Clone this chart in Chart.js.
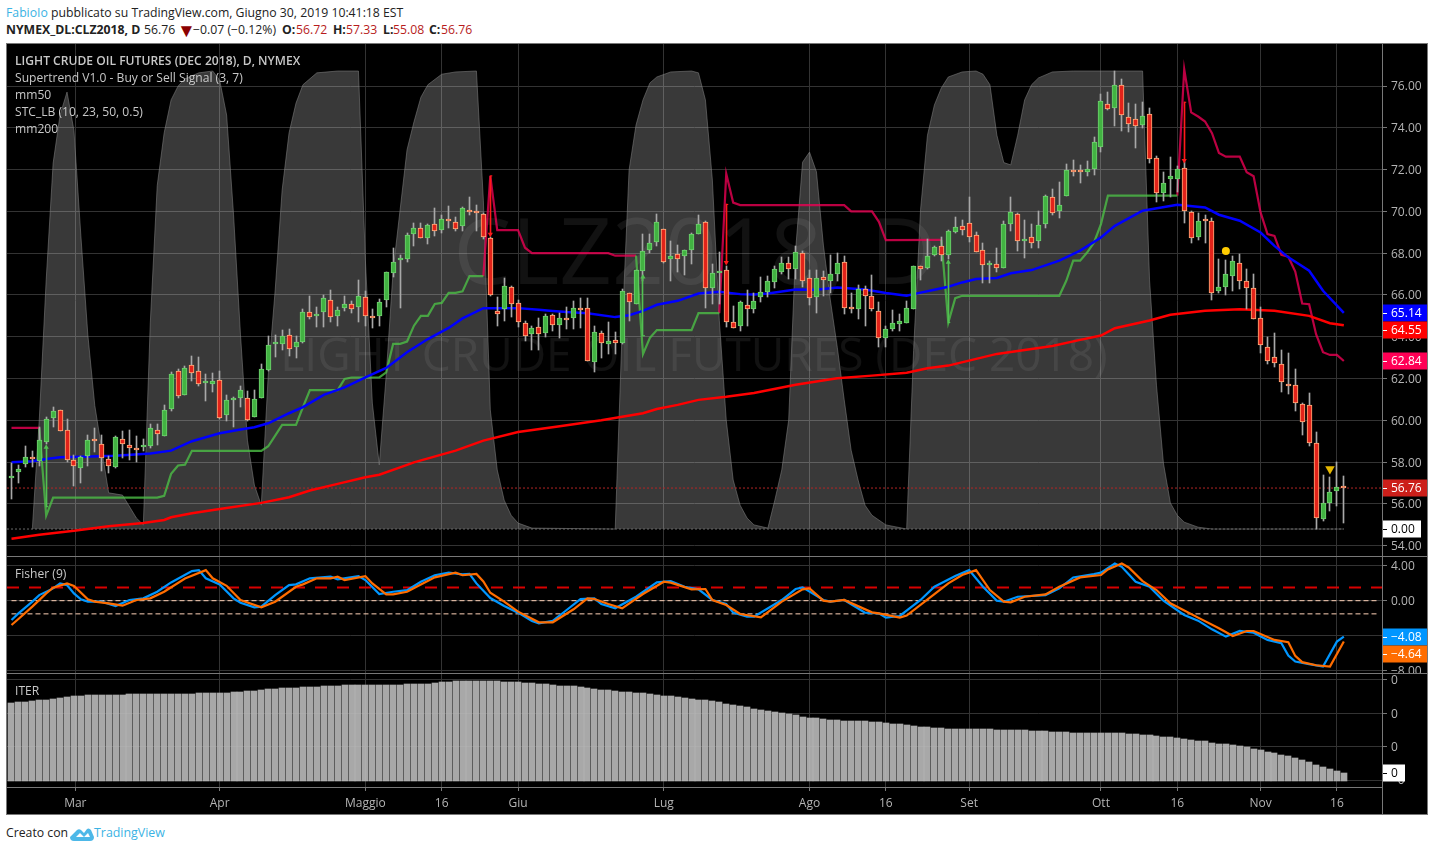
<!DOCTYPE html>
<html><head><meta charset="utf-8">
<script src="https://cdn.jsdelivr.net/npm/chart.js@4"></script>
<style>
html,body{margin:0;padding:0;background:#fff;width:1434px;height:851px;overflow:hidden;font-family:"Open Sans",sans-serif}
.t{position:absolute;white-space:nowrap;line-height:16px}
.h{font-size:12.25px;color:#222;top:22px}
.r{color:#b71c1c}
#frame{position:absolute;left:6px;top:43px;width:1422px;height:772px;box-sizing:border-box;border:1px solid #787878;background:#000}
canvas{position:absolute;left:7px;display:block}
.sep{position:absolute;background:#787878;z-index:2}
.lg{color:#c8c8c8;font-size:12.1px;z-index:3}
</style></head><body>
<div class="t" style="left:6px;top:5px;font-size:12.25px;color:#222"><span style="color:#3bb3e4">FabioIo</span> pubblicato su TradingView.com, Giugno 30, 2019 10:41:18 EST</div>
<div class="t h" style="left:6px"><b>NYMEX_DL:CLZ2018, D</b></div>
<div class="t h" style="left:144px">56.76</div>
<div class="t h" style="left:177px;color:#8b0000;font-size:19px">▼</div>
<div class="t h" style="left:193px">−0.07 (−0.12%)</div>
<div class="t h" style="left:282px"><b>O:</b></div><div class="t h r" style="left:296px">56.72</div>
<div class="t h" style="left:333px"><b>H:</b></div><div class="t h r" style="left:346px">57.33</div>
<div class="t h" style="left:383px"><b>L:</b></div><div class="t h r" style="left:393px">55.08</div>
<div class="t h" style="left:429px"><b>C:</b></div><div class="t h r" style="left:441px">56.76</div>
<div id="frame"></div>
<canvas id="cMain" width="1420" height="513" style="top:44px"></canvas>
<canvas id="cFisher" width="1420" height="116" style="top:557px"></canvas>
<canvas id="cIter" width="1420" height="141" style="top:673px"></canvas>
<div class="sep" style="left:7px;top:556px;width:1420px;height:1px"></div>
<div class="sep" style="left:7px;top:673px;width:1420px;height:1px"></div>
<div class="sep" style="left:1382px;top:44px;width:1px;height:770px"></div>
<div class="t lg" style="left:15px;top:53px;font-weight:600">LIGHT CRUDE OIL FUTURES (DEC 2018), D, NYMEX</div>
<div class="t lg" style="left:15px;top:70px">Supertrend V1.0 - Buy or Sell Signal (3, 7)</div>
<div class="t lg" style="left:15px;top:87px">mm50</div>
<div class="t lg" style="left:15px;top:104px">STC_LB (10, 23, 50, 0.5)</div>
<div class="t lg" style="left:15px;top:121px">mm200</div>
<div class="t lg" style="left:15px;top:566px">Fisher (9)</div>
<div class="t lg" style="left:15px;top:683px">ITER</div>
<div class="t" style="left:6px;top:825px;font-size:12.25px;color:#222">Creato con</div>
<svg style="position:absolute;left:70px;top:826px" width="24" height="15" viewBox="0 0 24 15"><path d="M0 11 L7 4 Q9 2.5 11 4 L14 7 L17 3 Q19 1.5 21 4 L24 11 Q24 15 20 15 L4 15 Q0 15 0 11Z M6 11 L10 7 L14 11 L18 7 L20 11Z" fill="#4db8e8" fill-rule="evenodd"/></svg>
<div class="t" style="left:94px;top:825px;font-size:12.4px;color:#3bb3e4">TradingView</div>
<script>
const open=[57.26,57.52,57.90,58.25,58.07,58.98,60.10,60.50,59.54,58.10,
57.70,58.28,59.07,58.87,58.15,57.75,59.11,58.82,58.68,58.71,
58.76,59.54,59.25,60.53,62.36,61.20,62.65,62.36,61.77,61.73,
61.93,60.24,60.98,61.07,61.07,60.15,61.06,62.40,63.64,63.64,
64.09,63.50,63.74,65.19,65.00,65.17,65.76,65.00,65.36,65.57,
65.43,65.90,64.95,65.00,65.76,67.04,67.65,67.71,68.90,69.22,
68.74,69.38,69.13,69.62,69.48,69.32,70.05,70.00,69.86,68.72,
65.23,65.35,66.37,65.61,64.65,64.11,64.46,64.16,65.03,64.54,
64.89,64.88,65.39,65.37,62.77,64.17,63.65,63.84,63.72,66.09,
65.59,67.17,68.13,68.52,69.15,67.70,67.94,67.86,68.14,68.90,
69.48,66.31,67.03,67.19,64.70,64.50,65.51,65.35,65.90,66.12,
66.60,67.08,67.52,67.22,68.00,66.79,65.90,66.85,66.68,66.98,
67.57,65.41,65.35,66.28,65.94,65.23,63.94,64.35,64.63,64.68,
65.35,67.38,67.28,67.90,68.33,67.92,69.03,69.30,69.44,68.88,
68.15,67.41,67.48,67.28,69.39,69.87,68.58,68.75,68.58,69.39,
70.70,70.00,70.73,71.93,71.93,71.88,72.01,73.07,75.14,74.95,
76.05,74.52,74.42,74.12,74.66,72.56,70.88,71.53,71.53,72.08,
69.97,68.75,69.60,69.54,66.17,66.36,66.93,67.52,66.68,66.33,
64.92,63.53,63.02,62.72,61.76,61.68,60.77,60.72,58.91,55.27,
56.04,56.61,56.79];
const high=[57.95,57.88,58.79,58.55,59.67,60.15,60.66,60.50,60.07,58.36,
58.31,59.32,59.64,59.32,58.31,59.27,59.51,59.54,59.27,59.11,
59.83,59.83,60.74,62.33,62.46,62.62,63.10,63.05,62.22,62.25,
62.38,61.23,61.14,61.66,61.39,61.45,62.70,64.05,64.09,64.30,
64.37,64.05,65.35,65.97,65.41,66.02,66.26,65.41,65.97,65.73,
66.73,66.21,65.33,65.81,67.10,68.26,67.90,68.97,69.43,69.43,
69.40,70.15,69.83,70.26,69.72,70.22,70.67,70.30,69.90,68.75,
65.91,66.80,66.44,65.77,64.76,64.53,64.92,65.11,65.11,65.15,
65.44,65.72,65.85,65.85,64.51,64.29,64.70,64.24,66.28,66.09,
67.19,68.92,68.92,69.87,69.15,68.59,68.38,68.14,68.98,69.83,
69.55,67.47,68.06,67.39,65.48,65.72,66.25,66.09,66.88,66.91,
67.39,67.83,67.80,68.35,68.08,67.18,67.18,67.15,67.92,68.03,
67.87,66.07,66.47,66.44,66.97,65.64,64.53,65.29,65.08,65.72,
67.38,67.40,68.67,68.35,68.75,69.09,69.74,69.58,70.67,69.03,
68.51,67.64,68.23,69.55,70.67,69.92,69.60,69.39,70.03,70.78,
71.07,71.42,72.27,72.48,72.24,72.43,73.58,75.62,75.73,76.74,
76.34,75.18,75.14,75.22,74.95,72.67,71.87,72.59,72.19,72.35,
70.03,69.90,69.84,69.68,67.72,67.68,67.88,67.96,67.24,67.00,
65.41,64.01,64.17,63.37,63.24,62.46,60.82,61.30,59.42,57.39,
57.28,58.01,57.33];
const low=[56.22,56.99,57.75,57.75,57.80,58.87,59.67,59.49,58.00,56.88,
56.99,57.83,58.47,57.56,57.47,57.71,58.18,58.12,58.00,58.55,
58.66,58.84,59.25,60.43,61.09,61.20,61.90,61.66,60.94,61.34,
60.07,59.99,59.70,60.66,59.96,60.15,61.06,62.35,63.02,63.38,
63.10,62.97,63.69,64.85,64.45,64.45,64.69,64.53,65.22,65.12,
64.69,64.53,64.40,64.53,65.41,66.85,65.40,67.60,68.34,68.71,
68.43,68.84,68.95,69.22,69.08,69.08,69.83,69.08,68.67,65.96,
64.53,64.76,64.96,64.45,63.80,63.38,63.38,63.97,64.29,63.92,
64.37,64.37,64.41,62.82,62.30,63.00,63.19,63.19,63.64,64.76,
65.59,66.67,68.03,68.32,67.55,66.67,67.10,66.96,67.50,68.90,
65.40,65.59,65.56,64.45,64.40,64.29,64.53,65.16,65.64,65.88,
66.33,66.99,66.76,66.76,66.36,65.53,65.16,65.96,66.10,66.68,
65.07,65.16,64.87,64.53,65.24,63.52,63.49,64.29,64.29,64.68,
65.35,66.71,67.23,67.87,67.63,67.70,68.95,68.88,68.55,68.04,
66.55,66.55,67.12,67.28,69.04,68.08,67.76,68.27,68.23,69.19,
69.84,69.68,70.73,71.71,71.36,71.71,71.76,72.83,74.86,74.10,
73.83,73.79,73.04,73.98,72.32,70.43,70.51,70.67,70.91,69.42,
68.51,68.64,68.51,65.77,66.07,66.00,66.20,66.28,65.32,64.84,
63.21,62.70,62.57,61.38,61.27,60.47,59.30,58.75,54.79,55.20,
55.64,55.90,55.08];
const close=[57.30,57.67,58.25,58.14,59.06,60.07,60.45,59.49,58.09,57.80,
58.25,59.06,59.03,58.20,57.82,59.19,58.86,58.66,58.60,58.79,
59.64,59.33,60.50,62.22,61.15,62.51,62.27,61.74,61.89,61.89,
60.11,60.98,61.07,61.45,60.00,61.02,62.46,63.60,63.75,64.04,
63.40,63.75,65.19,64.93,65.09,65.86,64.95,65.28,65.57,65.33,
65.95,65.00,64.89,65.67,67.08,67.57,67.72,68.86,69.19,68.71,
69.36,69.08,69.62,69.55,69.17,70.15,69.98,69.90,68.75,66.02,
65.11,66.42,65.59,64.69,64.06,64.41,64.11,64.98,64.54,64.89,
64.80,65.37,65.29,62.82,64.22,63.72,63.79,63.70,66.18,65.64,
67.19,68.10,68.48,69.48,67.60,67.86,67.72,68.14,68.90,69.39,
66.31,67.04,67.14,64.69,64.40,65.65,65.35,65.69,66.13,66.66,
67.23,67.52,67.23,68.05,66.66,65.85,66.79,66.71,66.98,67.52,
65.39,65.32,66.28,65.93,65.32,63.94,64.37,64.65,64.76,65.39,
67.38,67.23,67.86,68.30,67.90,69.07,69.27,69.09,68.75,68.04,
67.41,67.48,67.28,69.39,69.97,68.58,68.67,68.47,69.35,70.73,
69.90,70.30,71.98,71.87,71.87,72.03,73.32,75.30,74.89,76.07,
74.62,74.19,74.09,74.57,72.51,70.88,71.36,71.69,72.03,70.00,
68.72,69.54,69.52,66.09,66.39,67.00,67.62,66.65,66.31,64.84,
63.59,62.86,62.73,61.82,61.62,60.82,59.91,58.91,55.32,56.04,
56.56,56.83,56.76];

const mm50Idx=[0,3,5,7,10,15,20,23,26,30,33,35,37,40,42,45,48,51,54,57,60,63,65,68,70,73,76,78,80,83,87,89,91,93,96,99,102,105,107,109,113,116,119,123,126,129,130,133,135,137,139,142,144,147,151,154,157,159,163,168,172,174,177,180,182,184,187,189,192];
const mm50=[57.99,58.04,58.15,58.23,58.26,58.3,58.41,58.55,59.0,59.38,59.56,59.67,59.86,60.34,60.63,61.22,61.58,62.06,62.51,63.26,63.89,64.42,64.88,65.37,65.37,65.37,65.29,65.23,65.18,65.13,64.94,65.03,65.24,65.53,65.72,66.07,66.15,66.04,66.02,66.07,66.26,66.25,66.36,66.26,66.09,65.96,66.04,66.25,66.39,66.6,66.76,66.81,67.04,67.19,67.64,68.12,68.75,69.31,70.03,70.32,70.19,69.84,69.55,68.99,68.35,67.8,67.16,66.2,65.14];
const mm200Idx=[0,4,9,14,19,22,23,26,30,36,40,43,47,51,53,56,58,64,68,73,79,85,91,93,96,99,103,107,113,119,124,129,132,135,142,150,154,157,159,164,167,172,177,182,187,190,192];
const mm200=[54.33,54.52,54.72,54.93,55.09,55.23,55.36,55.55,55.76,56.05,56.32,56.64,56.96,57.28,57.4,57.75,57.99,58.55,59.03,59.44,59.72,60.0,60.34,60.54,60.74,60.98,61.13,61.31,61.7,62.01,62.14,62.28,62.49,62.62,63.18,63.56,63.85,64.06,64.41,64.78,65.05,65.25,65.32,65.24,65.0,64.65,64.55];

const stUp=[[4,59.64],[5,55.44],[6,56.3],[21,56.3],[22,56.39],[23,57.44],[24,57.84],[25,57.88],[26,58.54],[36,58.54],[37,58.76],[38,59.27],[39,59.78],[41,59.78],[42,60.63],[43,61.45],[47,61.45],[48,61.98],[49,62.05],[53,62.05],[54,62.3],[55,63.66],[56,63.66],[57,63.77],[58,64.53],[59,65.0],[60,65.0],[61,65.57],[62,65.62],[63,66.1],[64,66.1],[65,66.17],[66,66.9],[68,66.9],[69,null],
[90,67.88],[91,63.17],[92,63.95],[93,64.32],[98,64.32],[99,65.13],[102,65.13],[103,null],
[134,68.64],[135,64.68],[136,65.85],[137,65.96],[151,65.96],[152,66.68],[153,67.64],[154,67.64],[155,68.03],[156,68.51],[157,69.39],[158,70.75],[168,70.75]];
const stDown=[[0,59.64],[4,59.64],[5,null],
[68,66.9],[69,71.7],[70,69.1],[73,69.1],[74,68.26],[75,68.0],[86,68.0],[87,67.88],[90,67.88],[91,null],
[102,65.13],[103,71.8],[104,70.42],[105,70.3],[120,70.3],[121,70.0],[124,70.0],[125,69.5],[126,68.62],[134,68.64],[135,null],
[168,70.75],[169,76.8],[170,74.74],[171,74.54],[172,74.3],[173,73.74],[174,72.8],[175,72.62],[177,72.62],[178,71.87],[179,71.68],[180,69.95],[181,68.91],[182,68.83],[183,67.92],[184,67.83],[185,67.12],[186,65.59],[187,65.56],[188,64.12],[189,63.26],[190,63.13],[191,63.13],[192,62.84]];

const stc=[[3,0],[4,23.8],[5,54.4],[6,79.9],[7,90.4],[8,95.4],[9,87],[10,64],[11,42.4],[12,27],[14,7.9],[16,7.4],[18,2.4],[19,0.9],[20,45],[21,75],[22,86.5],[23,93.7],[24,96.7],[25,98.3],[27,99.6],[29,100],[30,98],[31,90.4],[32,68.6],[33,42.4],[34,19.4],[35,9.6],[36,5.2],[37,33.6],[38,52.2],[39,74],[40,86.5],[41,93],[42,97],[44,99.6],[47,100],[50,100],[51,58.7],[52,27.5],[53,14],[54,33.6],[55,56.5],[56,69.7],[57,82.8],[58,88.9],[59,94.3],[60,97],[62,99.3],[64,99.8],[67,100],[68,71.8],[69,26],[70,12.9],[71,6.3],[72,3],[73,1.3],[75,0.2],[87,0],[88,43.4],[89,78.4],[90,88.2],[91,93.7],[92,97.4],[93,98.7],[95,99.8],[98,100],[99,99.6],[100,93.7],[101,76.2],[102,45.6],[103,23.8],[104,10.7],[105,5.2],[106,2.4],[107,0.9],[109,0.2],[110,6.3],[111,12.9],[112,23.8],[113,60.9],[114,80.1],[115,82.3],[116,78],[117,62],[118,50],[119,39.7],[120,28.2],[121,17.2],[122,10.7],[123,5.2],[124,3],[126,0.9],[129,0],[130,39],[131,69.7],[132,86],[133,92.6],[134,96.3],[135,98.7],[137,99.8],[139,100],[140,99.3],[141,97],[142,86],[143,80],[144,79.5],[145,86],[146,93.7],[147,97],[148,98.5],[150,99.8],[153,100],[163,100],[164,54.4],[165,31.4],[166,14.4],[167,5.7],[168,3],[169,1.5],[171,0.4],[173,0],[192,0]];

const fisherBlue=[[0,-2.2],[1,-1.44],[3,-0.11],[4,0.64],[6,1.4],[7,1.97],[8,1.78],[9,0.83],[10,0.15],[11,-0.11],[13,-0.11],[15,-0.61],[17,0.08],[19,0.27],[21,1.02],[23,2.08],[26,3.37],[27,3.48],[28,2.55],[30,1.86],[32,0.27],[33,-0.23],[35,-0.76],[36,-0.68],[38,0.64],[40,1.78],[41,1.86],[43,2.55],[46,2.73],[47,2.42],[50,2.8],[51,2.35],[53,0.76],[55,1.02],[57,1.2],[59,2.15],[61,2.9],[63,3.2],[65,3.0],[66,3.05],
[67,1.97],[69,0.3],[71,-0.6],[73,-1.36],[75,-2.3],[76,-2.58],[78,-2.3],[80,-1.06],[82,0.19],[84,0.27],[85,-0.38],[87,-0.87],[90,0.45],[93,2.08],[95,2.23],[97,1.59],[99,1.29],[101,0.08],[103,-0.38],[104,-1.36],[106,-1.82],[107,-1.82],[111,0.08],[113,1.33],[114,1.52],[117,0.08],[118,-0.11],[120,0.08],[123,-1.36],[125,-1.44],[126,-1.93],[128,-1.74],[131,0.08],[133,1.59],[136,2.8],[138,3.48],[140,1.59],[142,0],[143,-0.11],[145,0.45],[149,0.64],[151,1.4],[153,2.65],[156,3.03],
[157,3.2],[159,4.24],[160,3.86],[162,2.16],[164,1.59],[166,0],[169,-1.63],[171,-2.27],[173,-3.26],[175,-4.09],[177,-3.45],[179,-3.64],[181,-4.47],[183,-4.85],[184,-6.25],[185,-6.93],[187,-7.23],[189,-7.5],[191,-4.66],[192,-4.08]];
const fisherOrange=[[0,-2.77],[1,-2.08],[3,-0.68],[5,0.83],[6,1.48],[8,1.97],[9,1.67],[11,0.15],[12,-0.11],[14,-0.3],[16,-0.57],[18,0.08],[20,0.27],[22,1.02],[25,2.53],[28,3.48],[29,2.55],[31,1.7],[33,0.08],[36,-0.76],[38,-0.11],[41,1.59],[42,1.86],[44,2.55],[46,2.55],[47,2.73],[48,2.35],[51,2.8],[52,1.97],[54,0.72],[55,0.72],[57,1.02],[61,2.66],[64,3.2],[65,2.9],[67,3.05],
[68,2.2],[69,0.9],[71,-0.11],[73,-1.25],[76,-2.46],[78,-2.46],[81,-0.98],[83,0.27],[84,0.19],[86,-0.38],[88,-0.87],[91,0.76],[94,2.16],[95,2.05],[98,1.29],[100,1.33],[101,0.08],[103,-0.49],[105,-1.52],[108,-1.89],[111,-0.11],[114,1.29],[115,1.4],[117,0],[118,-0.11],[120,0.08],[124,-1.33],[125,-1.44],[128,-1.93],[129,-1.7],[133,0.76],[135,1.97],[137,2.92],[139,3.48],[141,1.21],[143,-0.11],[144,-0.19],[146,0.45],[149,0.72],[151,1.59],[154,2.65],[157,2.92],
[158,3.56],[160,4.24],[161,3.79],[163,2.23],[165,1.21],[167,-0.3],[171,-1.93],[174,-3.14],[176,-4.02],[178,-3.45],[179,-3.45],[182,-4.47],[184,-4.73],[185,-6.29],[186,-7.0],[188,-7.35],[190,-7.5],[192,-4.64]];

const iter=[78,79,79,80,81,81,82,83,84,85,85,86,86,86,86,86,86,87,87,87,
87,87,87,87,87,87,87,88,88,88,88,88,89,89,90,90,91,92,92,93,
93,93,94,94,94,95,95,95,96,96,96,96,96,96,96,96,96,97,97,97,
97,98,99,99,100,100,100,100,100,100,100,99,99,99,98,98,97,97,96,95,
95,95,94,93,92,91,91,90,89,89,88,88,87,86,85,85,84,83,82,81,
81,80,79,77,76,75,74,72,71,70,69,68,67,66,64,63,63,62,61,61,
60,60,60,60,59,59,58,57,57,56,55,54,54,53,53,52,52,52,52,52,
52,52,51,51,51,51,51,50,50,50,49,49,49,48,48,48,48,48,48,48,
48,47,47,46,46,45,44,44,43,42,41,40,40,38,37,37,36,35,34,32,
31,29,28,26,25,23,21,19,16,14,12,10,8];

const sigUp=[[5,55.87,58.71],[91,64.05,66.86],[135,64.68,67.56]];
const sigDown=[[69,71.7,68.91],[103,70.33,67.55],[169,75.22,72.43]];
const circleMark=[[175,68.1]];
const triangleMark=[[190,57.67]];

const priceTicks=[54,56,58,60,62,64,66,68,70,72,74,76];
const fisherTicks=[-8,-4,0,4];
const iterTicks=[1,34.3,67.6,101];
const xTickIdx=[9.2,30,51,62,73,94,115,126,138,157,168,180,191];
const xTickLabels=['Mar','Apr','Maggio','16','Giu','Lug','Ago','16','Set','Ott','16','Nov','16'];
const lastClose=56.76, fisherUpper=1.5, fisherMid=0, fisherLower=-1.5;

const xMin=-0.648, xMax=197.5;
const grid='#333333', axisTxt='#b4b4b4', fontFam='"Open Sans",sans-serif';
const tickFont={family:fontFam,size:12};
const n=close.length, idx=Array.from({length:n},(_,i)=>i);
const pairs=a=>a.map(p=>({x:p[0],y:p[1]}));
const zip=(a,b)=>a.map((v,i)=>({x:v,y:b[i]}));
const isUp=c=>close[c.dataIndex]>=open[c.dataIndex];

const snap={id:'snap',beforeDatasetDraw(ch,{meta}){
  if(meta.type!=='bar')return;
  const minH=ch.data.datasets[meta.index].minH||0;
  for(const el of meta.data){
    if(!Number.isFinite(el.x))continue;
    el.x=(Math.round(el.width)%2)?Math.floor(el.x)+0.5:Math.round(el.x);
    let a=Math.round(el.y),b=Math.round(el.base);
    if(minH&&Math.abs(a-b)<minH)a=b-minH;
    el.y=a;el.base=b;
  }
}};
const tags={id:'tags',afterDraw(ch,a,o){
  const c=ch.ctx,r=ch.chartArea.right;let prev=-1e9;
  c.save();c.font='12px '+fontFam;c.textBaseline='middle';
  for(const t of o.items||[]){
    let y=Math.round(ch.scales[t.axis].getPixelForValue(t.value));
    if(y<prev+17)y=prev+17;prev=y;
    c.fillStyle=t.bg;c.fillRect(r,y-8.5,t.w||45,17);
    c.fillStyle=t.fg;c.fillRect(r+1,y,4,1);
    c.fillText(t.text,r+9,y+1);
  }
  c.restore();
}};
const mark={id:'mark',beforeDatasetsDraw(ch){
  const c=ch.ctx,ys=ch.scales.y;
  c.save();c.fillStyle='rgba(255,255,255,0.07)';c.textAlign='center';c.textBaseline='middle';
  c.font='92px '+fontFam;c.fillText('CLZ2018, D',688,ys.getPixelForValue(67.8));
  c.font='46px '+fontFam;c.fillText('LIGHT CRUDE OIL FUTURES (DEC 2018)',687,ys.getPixelForValue(63.0));
  c.restore();
}};
const yScale=(ticks,min,max,fmt)=>({type:'linear',position:'right',min,max,
  afterBuildTicks:s=>{s.ticks=ticks.map(v=>({value:v}))},
  afterFit:s=>{s.width=45;s.paddingTop=0;s.paddingBottom=0},
  ticks:{color:axisTxt,font:tickFont,padding:4,labelOffset:1,callback:fmt},
  grid:{color:grid,tickLength:5,tickColor:'#787878'},border:{display:false}});
const xScale=show=>({type:'linear',min:xMin,max:xMax,offset:false,
  afterBuildTicks:s=>{s.ticks=xTickIdx.map(v=>({value:v}))},
  afterFit:s=>{s.height=show?27:0;s.paddingLeft=0;s.paddingRight=0},
  ticks:{display:show,autoSkip:false,maxRotation:0,color:axisTxt,font:tickFont,padding:5,callback:(v,i)=>xTickLabels[i]},
  grid:{color:grid,offset:false,drawTicks:show,tickLength:4,tickColor:'#787878'},
  border:show?{display:true,color:'#787878'}:{display:false}});
const base=o=>({responsive:false,animation:false,events:[],layout:{padding:0,autoPadding:false},
  plugins:Object.assign({legend:{display:false},tooltip:{enabled:false}},o)});
const line=(data,color,w,extra)=>Object.assign({type:'line',data,borderColor:color,borderWidth:w,pointRadius:0,tension:0,fill:false,spanGaps:false},extra||{});
const fmt2=v=>v.toFixed(2).replace('-','−');

new Chart(document.getElementById('cMain'),{type:'bar',plugins:[snap,tags,mark],
 data:{datasets:[
  line(pairs(stc),'rgba(130,130,130,0.55)',1,{yAxisID:'stc',fill:{value:0},backgroundColor:'rgba(255,255,255,0.225)',order:20}),
  line([{x:xMin,y:0},{x:192,y:0}],'#6a6a6a',1,{yAxisID:'stc',borderDash:[2,2],order:19}),
  line([{x:xMin,y:lastClose},{x:xMax,y:lastClose}],'#b02525',1,{borderDash:[2,2],order:18}),
  line(pairs(stUp),'rgba(76,190,70,0.8)',2.2,{order:9}),
  line(pairs(stDown),'rgba(240,0,85,0.78)',2.2,{order:9}),
  line(zip(mm200Idx,mm200),'#ff0000',2.5,{order:8}),
  line(zip(mm50Idx,mm50),'#0000ff',2.5,{order:8}),
  {type:'bar',grouped:false,order:6,barThickness:1,backgroundColor:'#a8a8a8',
   data:idx.map(i=>({x:i,y:[low[i],high[i]]}))},
  {type:'bar',grouped:false,order:5,barThickness:5,borderWidth:1,borderSkipped:false,minH:2,
   backgroundColor:c=>isUp(c)?'#42b342':'#e2231a',borderColor:c=>isUp(c)?'#70d070':'#ffb07c',
   data:idx.map(i=>({x:i,y:[open[i],close[i]]}))},
  {type:'bar',grouped:false,order:4,barThickness:1,backgroundColor:'#52c052',data:sigUp.map(s=>({x:s[0],y:[s[1],s[2]]}))},
  {type:'bar',grouped:false,order:4,barThickness:1,backgroundColor:'#ff1a1a',data:sigDown.map(s=>({x:s[0],y:[s[1],s[2]]}))},
  line(sigUp.map(s=>({x:s[0],y:s[2]})),'#52c052',0,{showLine:false,pointRadius:3,pointStyle:'triangle',pointBackgroundColor:'#52c052',pointBorderWidth:0,order:3}),
  line(sigDown.map(s=>({x:s[0],y:s[2]})),'#ff1a1a',0,{showLine:false,pointRadius:3,pointStyle:'triangle',pointRotation:180,pointBackgroundColor:'#ff1a1a',pointBorderWidth:0,order:3}),
  line(sigUp.map(s=>({x:s[0],y:s[1]})),'#52c052',0,{showLine:false,pointRadius:2,pointStyle:'dash',pointBorderColor:'#52c052',pointBorderWidth:1,order:3}),
  line(sigDown.map(s=>({x:s[0],y:s[1]})),'#ff1a1a',0,{showLine:false,pointRadius:2,pointStyle:'dash',pointBorderColor:'#ff1a1a',pointBorderWidth:1,order:3}),
  line(pairs(circleMark),'#ffcc00',0,{showLine:false,pointRadius:4,pointStyle:'circle',pointBackgroundColor:'#ffcc00',pointBorderWidth:0,order:2}),
  line(pairs(triangleMark),'#e6b800',0,{showLine:false,pointRadius:5.5,pointStyle:'triangle',pointRotation:180,pointBackgroundColor:'#e6b800',pointBorderWidth:0,order:2})
 ]},
 options:Object.assign(base({tags:{items:[
   {axis:'y',value:mm50[mm50.length-1],bg:'#0000ff',fg:'#fff',text:'65.14'},
   {axis:'y',value:mm200[mm200.length-1],bg:'#ff0000',fg:'#fff',text:'64.55'},
   {axis:'y',value:stDown[stDown.length-1][1],bg:'#ff0055',fg:'#fff',text:'62.84'},
   {axis:'y',value:lastClose,bg:'#cc1f1a',fg:'#fff',text:'56.76'},
   {axis:'stc',value:0,bg:'#ffffff',fg:'#000',text:'0.00',w:39}
 ]}}),{scales:{
  x:xScale(false),
  y:yScale(priceTicks,53.46,78.01,fmt2),
  stc:{type:'linear',display:false,min:-6.11,max:105.9}
 }})
});

new Chart(document.getElementById('cFisher'),{type:'line',plugins:[tags],
 data:{datasets:[
  line([{x:xMin,y:fisherUpper},{x:xMax,y:fisherUpper}],'#d80000',2,{borderDash:[12,10],order:5}),
  line([{x:0,y:fisherMid},{x:197,y:fisherMid}],'#ffd2b8',1,{borderDash:[5,3],order:5}),
  line([{x:0,y:fisherLower},{x:197,y:fisherLower}],'#ffd2b8',1,{borderDash:[5,3],order:5}),
  line(pairs(fisherBlue),'#0096ff',2.2,{order:2}),
  line(pairs(fisherOrange),'#ff6d00',2.2,{order:1})
 ]},
 options:Object.assign(base({tags:{items:[
   {axis:'y',value:-4.08,bg:'#0096ff',fg:'#fff',text:'−4.08'},
   {axis:'y',value:-4.64,bg:'#ff6d00',fg:'#fff',text:'−4.64'}
 ]}}),{scales:{x:xScale(false),y:yScale(fisherTicks,-8.235,4.977,fmt2)}})
});

new Chart(document.getElementById('cIter'),{type:'bar',plugins:[snap,tags],
 data:{datasets:[{data:idx.map(i=>({x:i,y:iter[i]})),barThickness:6,backgroundColor:'rgba(186,186,186,0.9)'}]},
 options:Object.assign(base({tags:{items:[
   {axis:'y',value:iter[n-1],bg:'#ffffff',fg:'#000',text:'0',w:23}
 ]}}),{scales:{x:xScale(true),y:yScale(iterTicks,-6,108,(v,i)=>i===0?'−0':'0')}})
});
</script>
</body></html>
